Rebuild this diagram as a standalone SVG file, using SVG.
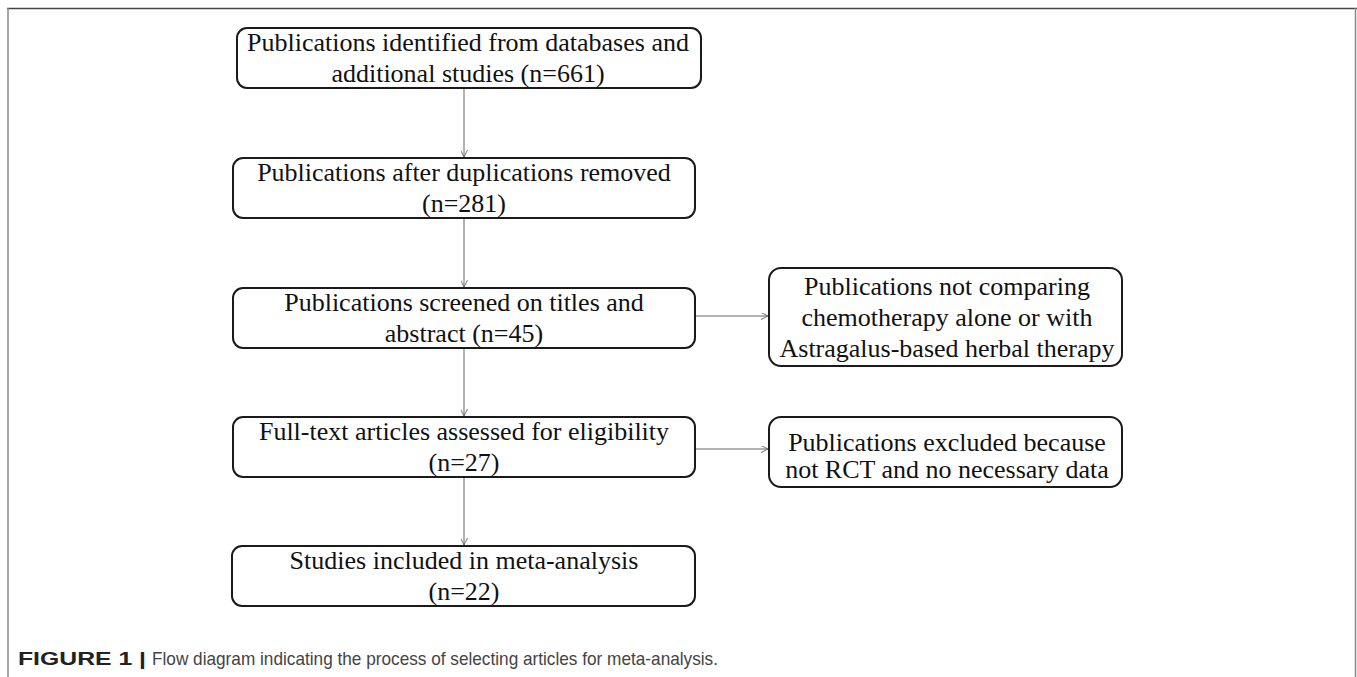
<svg xmlns="http://www.w3.org/2000/svg" width="1357" height="677" viewBox="0 0 1357 677">
<defs>
<style>
.box{fill:#fff;stroke:#1a1a1a;stroke-width:2}
.t{font-family:"Liberation Serif","Times New Roman",serif;font-size:26px;fill:#111;text-anchor:middle}
.c{stroke:#666;stroke-width:1;fill:none}
.cap{font-family:"Liberation Sans",Arial,sans-serif;font-size:19px}
</style>
<marker id="ah" viewBox="0 0 10 10" refX="10" refY="5" markerWidth="7" markerHeight="7" markerUnits="userSpaceOnUse" orient="auto">
<path d="M0,0 L10,5 L0,10" fill="none" stroke="#666" stroke-width="1.3"/>
</marker>
</defs>
<rect width="1357" height="677" fill="#fff"/>
<g id="frame">
<line x1="7" y1="8.5" x2="1357" y2="8.5" stroke="#444" stroke-width="1.5"/>
<line x1="8" y1="8" x2="8" y2="677" stroke="#888" stroke-width="1.5"/>
<line x1="1355.5" y1="8" x2="1355.5" y2="677" stroke="#888" stroke-width="1.5"/>
</g>
<g id="connectors">
<line class="c" x1="464" y1="89" x2="464" y2="157" marker-end="url(#ah)"/>
<line class="c" x1="464" y1="219" x2="464" y2="287" marker-end="url(#ah)"/>
<line class="c" x1="464" y1="349" x2="464" y2="416" marker-end="url(#ah)"/>
<line class="c" x1="464" y1="478" x2="464" y2="545" marker-end="url(#ah)"/>
<line class="c" x1="696" y1="316" x2="768" y2="316" marker-end="url(#ah)"/>
<line class="c" x1="696" y1="449" x2="768" y2="449" marker-end="url(#ah)"/>
</g>
<g id="n1">
<rect class="box" x="237" y="28" width="464" height="60" rx="10"/>
<text class="t" x="468" y="51">Publications identified from databases and</text>
<text class="t" x="468" y="82">additional studies (n=661)</text>
</g>
<g id="n2">
<rect class="box" x="233" y="158" width="462" height="60" rx="10"/>
<text class="t" x="464" y="181">Publications after duplications removed</text>
<text class="t" x="464" y="212">(n=281)</text>
</g>
<g id="n3">
<rect class="box" x="233" y="288" width="462" height="60" rx="10"/>
<text class="t" x="464" y="311">Publications screened on titles and</text>
<text class="t" x="464" y="342">abstract (n=45)</text>
</g>
<g id="n4">
<rect class="box" x="233" y="417" width="462" height="60" rx="10"/>
<text class="t" x="464" y="440">Full-text articles assessed for eligibility</text>
<text class="t" x="464" y="471">(n=27)</text>
</g>
<g id="n5">
<rect class="box" x="232" y="546" width="463" height="60" rx="10"/>
<text class="t" x="464" y="569">Studies included in meta-analysis</text>
<text class="t" x="464" y="600">(n=22)</text>
</g>
<g id="r1">
<rect class="box" x="769" y="268" width="353" height="98" rx="12"/>
<text class="t" x="947" y="295">Publications not comparing</text>
<text class="t" x="947" y="326">chemotherapy alone or with</text>
<text class="t" x="947" y="357">Astragalus-based herbal therapy</text>
</g>
<g id="r2">
<rect class="box" x="769" y="417" width="353" height="70" rx="12"/>
<text class="t" x="947" y="451">Publications excluded because</text>
<text class="t" x="947" y="478">not RCT and no necessary data</text>
</g>
<g id="caption">
<text class="cap" x="18" y="665" font-weight="bold" fill="#222" textLength="128" lengthAdjust="spacingAndGlyphs">FIGURE 1 |</text>
<text class="cap" x="152" y="665" fill="#444" textLength="566" lengthAdjust="spacingAndGlyphs">Flow diagram indicating the process of selecting articles for meta-analysis.</text>
</g>
</svg>
